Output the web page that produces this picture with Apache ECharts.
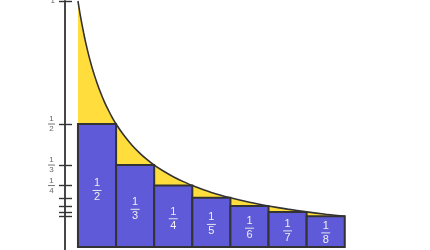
<!DOCTYPE html>
<html>
<head>
<meta charset="utf-8">
<script src="https://cdn.jsdelivr.net/npm/echarts@6/dist/echarts.min.js"></script>
<style>html,body{margin:0;padding:0;background:#fff}#c{width:430px;height:250px}</style>
</head>
<body>
<div id="c"></div>
<script>
// Curve y = 1/x sample points
const curveX = [1, 1.05, 1.1, 1.15, 1.2, 1.3, 1.4, 1.5, 1.6, 1.7, 1.8, 1.9, 2, 2.2, 2.4, 2.6, 2.8, 3, 3.25, 3.5, 3.75, 4, 4.5, 5, 5.5, 6, 6.5, 7, 7.5, 8];
const curveY = [1, 0.952, 0.909, 0.870, 0.833, 0.769, 0.714, 0.667, 0.625, 0.588, 0.556, 0.526, 0.5, 0.455, 0.417, 0.385, 0.357, 0.333, 0.308, 0.286, 0.267, 0.25, 0.222, 0.2, 0.182, 0.167, 0.154, 0.143, 0.133, 0.125];
// Rectangles
const barStart = [1, 2, 3, 4, 5, 6, 7];
const barEnd = [2, 3, 4, 5, 6, 7, 8];
const barHeight = [1/2, 1/3, 1/4, 1/5, 1/6, 1/7, 1/8];
const barNum = ['1', '1', '1', '1', '1', '1', '1'];
const barDen = ['2', '3', '4', '5', '6', '7', '8'];
// Y axis ticks and labels
const yTickValues = [1, 1/2, 1/3, 1/4, 1/5, 1/6, 1/7, 1/8];
const yLabelValues = [1, 1/2, 1/3, 1/4];
const yLabelNum = ['1', '1', '1', '1'];
const yLabelDen = ['', '2', '3', '4'];

const chart = echarts.init(document.getElementById('c'), null, {renderer: 'canvas'});

const curveData = curveX.map((x, i) => [x, curveY[i]]);
const barData = barStart.map((s, i) => [s, barEnd[i], barHeight[i], i]);

function yLabelFmt(v) {
  let idx = -1;
  for (let i = 0; i < yLabelValues.length; i++) if (Math.abs(yLabelValues[i] - v) < 1e-6) idx = i;
  if (idx < 0) return '';
  if (!yLabelDen[idx]) return '{w|' + yLabelNum[idx] + '}';
  return '{n|' + yLabelNum[idx] + '}\n{l| }\n{n|' + yLabelDen[idx] + '}';
}

const option = {
  animation: false,
  grid: {left: 65, top: 1, width: 356, bottom: 0, containLabel: false, outerBoundsMode: 'none'},
  xAxis: {
    type: 'value', min: 0.66, max: 10,
    axisLine: {show: false},
    axisTick: {show: false}, axisLabel: {show: false}, splitLine: {show: false}
  },
  yAxis: [{
    type: 'value', min: -0.012, max: 1,
    axisLine: {show: true, lineStyle: {color: '#333', width: 1.8}},
    axisTick: {show: true, customValues: yTickValues, length: 6, lineStyle: {color: '#333', width: 1.4}},
    axisLabel: {
      show: true, customValues: yLabelValues, margin: 10, formatter: yLabelFmt,
      color: '#666', fontFamily: 'Liberation Sans', fontSize: 8,
      rich: {
        n: {fontSize: 8, color: '#666', lineHeight: 8, align: 'center', fontFamily: 'Liberation Sans'},
        w: {fontSize: 8, color: '#666', lineHeight: 8, align: 'center', fontFamily: 'Liberation Sans'},
        l: {width: 7, height: 1, lineHeight: 2, backgroundColor: '#777', align: 'center', fontSize: 1}
      }
    },
    splitLine: {show: false}
  }, {
    type: 'value', min: -0.012, max: 1, position: 'left',
    axisLine: {show: false},
    axisTick: {show: true, inside: true, customValues: yTickValues, length: 7, lineStyle: {color: '#333', width: 1.4}},
    axisLabel: {show: false},
    splitLine: {show: false}
  }],
  series: [{
    type: 'line',
    data: curveData,
    showSymbol: false,
    smooth: 0.2,
    z: 1,
    lineStyle: {color: '#333', width: 1.6},
    areaStyle: {color: '#FFDD3C', opacity: 1}
  }, {
    type: 'custom',
    z: 3,
    data: barData,
    renderItem: function (params, api) {
      const x0 = api.value(0), x1 = api.value(1), h = api.value(2), i = api.value(3);
      const p0 = api.coord([x0, h]);
      const p1 = api.coord([x1, 0]);
      const pl = api.coord([(x0 + x1) / 2, h * 0.46]);
      return {
        type: 'group',
        children: [{
          type: 'rect',
          shape: {x: p0[0], y: p0[1], width: p1[0] - p0[0], height: p1[1] - p0[1]},
          style: {fill: '#5E5AD8', stroke: '#333', lineWidth: 2}
        }, {
          type: 'text',
          style: {
            x: pl[0], y: pl[1],
            text: '{n|' + barNum[i] + '}\n{l| }\n{n|' + barDen[i] + '}',
            align: 'center', verticalAlign: 'middle',
            rich: {
              n: {fontSize: 11, fill: '#f0f0f0', lineHeight: 11, align: 'center', fontFamily: 'Liberation Sans'},
              l: {width: 9, height: 1, lineHeight: 3, backgroundColor: '#e6e6e6', align: 'center', fontSize: 1}
            }
          }
        }]
      };
    }
  }]
};
chart.setOption(option);
</script>
</body>
</html>
